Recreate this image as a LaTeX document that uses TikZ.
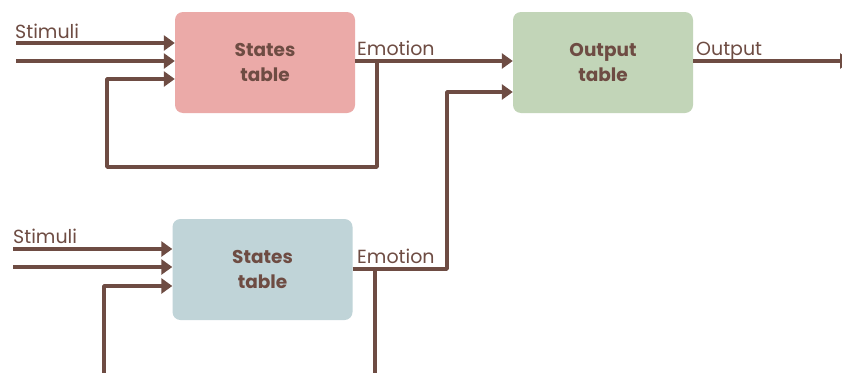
\documentclass[tikz,border=0pt]{standalone}
\usepackage{fontspec}
\setmainfont{Poppins}
\usetikzlibrary{arrows.meta}
\definecolor{ink}{HTML}{6E4C43}
\definecolor{pinkbox}{HTML}{EBAAA8}
\definecolor{bluebox}{HTML}{C0D4D8}
\definecolor{greenbox}{HTML}{C2D5B8}
\tikzset{
  tablebox/.style={draw=none, rounded corners=8pt, minimum width=180pt, minimum height=101pt,
    align=center, text=ink, font=\fontsize{18.5}{25}\selectfont\bfseries, inner sep=0pt},
  wire/.style={draw=ink, line width=3.5pt, line join=round},
  arr/.style={wire, -{Triangle[length=11pt,width=15pt]}},
  lbl/.style={text=ink, font=\fontsize{19}{22}\selectfont, inner sep=0pt, anchor=base west}
}
\begin{document}
\begin{tikzpicture}[x=1pt,y=-1pt]
\useasboundingbox (0,0) rectangle (842,372);
\fill[white] (0,0) rectangle (842,372);

% the three tables
\node[tablebox, fill=pinkbox]  (s1)  at (265,62.5)  {States\\table};
\node[tablebox, fill=bluebox]  (s2)  at (262.5,269.5) {States\\table};
\node[tablebox, fill=greenbox] (out) at (603,62.5)  {Output\\table};

% free ends and bends
\coordinate (i1a) at (16,43);
\coordinate (i1b) at (16,61);
\coordinate (i1c) at (107,79);
\coordinate (j1)  at (377,61);
\coordinate (f1)  at (377,167);
\coordinate (f2)  at (107,167);
\coordinate (i2a) at (13,249);
\coordinate (i2b) at (13,267);
\coordinate (i2c) at (104,286);
\coordinate (i2d) at (104,380);
\coordinate (e2)  at (375,269);
\coordinate (e2d) at (375,380);
\coordinate (k2)  at (447,269);
\coordinate (k2u) at (447,92);
\coordinate (o1)  at (851,61);

% inputs of the first table
\draw[arr] (i1a) -- (s1.west |- i1a);
\draw[arr] (i1b) -- (s1.west |- i1b);
% emotion of the first table, with its feedback loop
\draw[arr] (s1.east |- j1) -- (out.west |- j1);
\draw[arr] (j1) -- (f1) -- (f2) -- (i1c) -- (s1.west |- i1c);

% inputs of the second table
\draw[arr] (i2a) -- (s2.west |- i2a);
\draw[arr] (i2b) -- (s2.west |- i2b);
\draw[arr] (i2d) -- (i2c) -- (s2.west |- i2c);
% emotion of the second table
\draw[arr] (s2.east |- k2) -- (k2) -- (k2u) -- (out.west |- k2u);
\draw[wire] (e2) -- (e2d);

% output
\draw[arr] (out.east |- o1) -- (o1);

% labels
\node[lbl] (t1) at (15,38)  {Stimuli};
\node[lbl] (t2) at (357,55) {Emotion};
\node[lbl] (t3) at (696,55) {Output};
\node[lbl] (t4) at (13,243) {Stimuli};
\node[lbl] (t5) at (357,263) {Emotion};
\end{tikzpicture}
\end{document}
